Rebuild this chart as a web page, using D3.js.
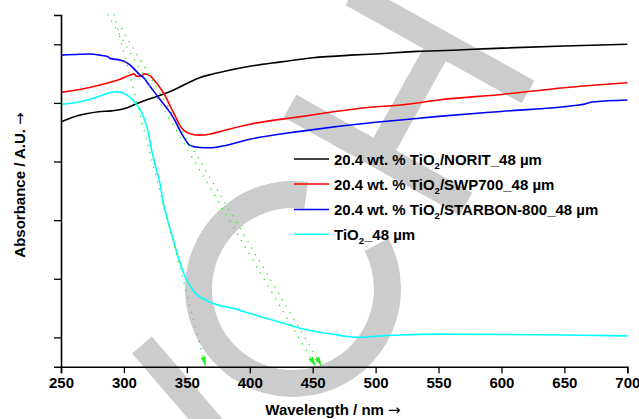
<!DOCTYPE html>
<html>
<head>
<meta charset="utf-8">
<script src="https://cdn.jsdelivr.net/npm/d3@7"></script>
<style>
  body { margin: 0; background: #fff; }
  svg { display: block; }
  text { font-family: "Liberation Sans", Arial, sans-serif; font-weight: bold; fill: #000; }
  .arrow { font-family: "DejaVu Sans", sans-serif; font-weight: normal; }
</style>
</head>
<body>
<svg id="chart" width="639" height="419"></svg>
<script>
// Diffuse reflectance UV-Vis spectra (absorbance, arbitrary units)
const seriesNames = [
  "20.4 wt. % TiO2/NORIT_48 µm",
  "20.4 wt. % TiO2/SWP700_48 µm",
  "20.4 wt. % TiO2/STARBON-800_48 µm",
  "TiO2_48 µm"
];
const seriesColors = ["#000000", "#ff0000", "#0000ff", "#00ffff"];

const noritNm  = [250, 260, 270, 280, 290, 300, 310, 320, 330, 340, 350, 360, 370, 380, 400, 425, 450, 480, 500, 533, 550, 600, 650, 700];
const noritAbs = [0.735, 0.752, 0.763, 0.770, 0.773, 0.780, 0.797, 0.813, 0.828, 0.845, 0.866, 0.886, 0.898, 0.908, 0.925, 0.940, 0.954, 0.963, 0.967, 0.976, 0.978, 0.987, 0.994, 1.000];

const swpNm  = [250, 265, 281, 297, 305, 308, 310, 314, 316, 318, 321, 325, 329, 333, 337, 341, 345, 349, 354, 360, 368, 376, 400, 440, 500, 520, 550, 600, 650, 700];
const swpAbs = [0.836, 0.846, 0.861, 0.881, 0.895, 0.899, 0.891, 0.891, 0.899, 0.898, 0.892, 0.872, 0.850, 0.822, 0.787, 0.753, 0.719, 0.702, 0.693, 0.690, 0.693, 0.702, 0.727, 0.753, 0.787, 0.793, 0.810, 0.829, 0.852, 0.869];

const starbonNm  = [250, 265, 273, 281, 287, 289, 297, 301, 305, 309, 313, 315, 321, 329, 337, 341, 345, 349, 352, 360, 368, 376, 400, 440, 500, 520, 550, 600, 650, 660, 665, 672, 700];
const starbonAbs = [0.963, 0.966, 0.967, 0.963, 0.958, 0.952, 0.946, 0.940, 0.929, 0.912, 0.895, 0.889, 0.855, 0.810, 0.765, 0.736, 0.702, 0.673, 0.656, 0.648, 0.647, 0.651, 0.676, 0.703, 0.734, 0.742, 0.754, 0.771, 0.787, 0.792, 0.795, 0.803, 0.810];

const tio2Nm  = [250, 260, 270, 280, 288, 293, 297, 301, 305, 309, 313, 316, 319, 322, 326, 329, 331, 334, 338, 342, 346, 350, 355, 360, 365, 371, 387, 400, 413, 427, 440, 453, 466, 478, 486, 500, 520, 550, 600, 650, 700];
const tio2Abs = [0.796, 0.800, 0.809, 0.822, 0.834, 0.838, 0.837, 0.830, 0.819, 0.800, 0.776, 0.748, 0.705, 0.640, 0.570, 0.518, 0.465, 0.412, 0.352, 0.290, 0.236, 0.195, 0.160, 0.139, 0.128, 0.116, 0.099, 0.082, 0.065, 0.048, 0.031, 0.019, 0.011, 0.003, 0.000, 0.004, 0.008, 0.011, 0.010, 0.008, 0.005];

// Band-edge extrapolation lines (start point, and wavelength where they meet the axis)
const edgeStartNm  = [292, 287, 298];
const edgeStartAbs = [1.103, 1.103, 1.055];
const edgeEndNm    = [365, 452.5, 457.5];

const xMajorTicks = [250, 300, 350, 400, 450, 500, 550, 600, 650, 700];
const xMinorTicks = [275, 325, 375, 425, 475, 525, 575, 625, 675];
const yMajorTicks = [0, 0.2, 0.4, 0.6, 0.8, 1.0];
const yMinorTicks = [0.1, 0.3, 0.5, 0.7, 0.9, 1.1];

const svg = d3.select("#chart");
const x = d3.scaleLinear().domain([250, 700]).range([61, 627.3]);
const y = d3.scaleLinear().domain([-0.1, 1.1]).range([366.7, 15]);

// Light grey letterforms behind the plot
const wm = svg.append("g").attr("fill", "#cccccc");
function band(x1, y1, x2, y2, w) {
  const dx = x2 - x1, dy = y2 - y1, L = Math.hypot(dx, dy);
  const nx = -dy / L * w / 2, ny = dx / L * w / 2;
  return `M${x1 + nx},${y1 + ny}L${x2 + nx},${y2 + ny}L${x2 - nx},${y2 - ny}L${x1 - nx},${y1 - ny}Z`;
}
wm.append("path").attr("d", band(352, -6, 528, 92, 26));
wm.append("path").attr("d", band(440, 45, 377, 158, 26));
wm.append("path").attr("d", band(290, 106, 466, 204, 26));
wm.append("path").attr("d", band(142, 345, 215, 430, 26));
wm.append("path")
  .attr("transform", "translate(293,289)")
  .attr("d", d3.arc().innerRadius(81).outerRadius(108)
    .startAngle(62 * Math.PI / 180).endAngle(368 * Math.PI / 180)());

// Spectra
const line = d3.line().curve(d3.curveMonotoneX).x(d => x(d[0])).y(d => y(d[1]));
const spectra = [
  d3.zip(noritNm, noritAbs),
  d3.zip(swpNm, swpAbs),
  d3.zip(starbonNm, starbonAbs),
  d3.zip(tio2Nm, tio2Abs)
];
svg.append("g").selectAll("path").data(spectra).join("path")
  .attr("d", line)
  .attr("fill", "none")
  .attr("stroke", (d, i) => seriesColors[i])
  .attr("stroke-width", 1.6)
  .attr("stroke-linejoin", "round");

// Dotted extrapolation lines with arrowheads
const edges = svg.append("g");
edgeStartNm.forEach((s, i) => {
  const x1 = x(s), y1 = y(edgeStartAbs[i]);
  const x2 = x(edgeEndNm[i]), y2 = y(-0.1);
  const L = Math.hypot(x2 - x1, y2 - y1), ux = (x2 - x1) / L, uy = (y2 - y1) / L;
  const hl = 10, hw = 2.6;
  edges.append("line")
    .attr("x1", x1).attr("y1", y1).attr("x2", x2 - ux * hl).attr("y2", y2 - uy * hl)
    .attr("stroke", "#22ee22").attr("stroke-width", 1.3).attr("stroke-dasharray", "1.3 6.2");
  const bx = x2 - ux * hl, by = y2 - uy * hl;
  edges.append("path")
    .attr("d", `M${x2},${y2}L${bx - uy * hw},${by + ux * hw}L${bx + uy * hw},${by - ux * hw}Z`)
    .attr("fill", "#22ee22");
});

// Axes
const axX = svg.append("g").attr("transform", `translate(0,${y(-0.1)})`);
axX.call(d3.axisBottom(x).tickValues(xMinorTicks).tickSize(4).tickFormat(""));
axX.call(d3.axisBottom(x).tickValues(xMajorTicks).tickSize(6.5).tickFormat(d3.format("d")));
axX.selectAll("text").attr("font-size", 15).attr("y", 11).attr("dy", "0.71em");
const axY = svg.append("g").attr("transform", `translate(${x(250)},0)`);
axY.call(d3.axisLeft(y).tickValues(yMinorTicks).tickSize(3.5).tickFormat(""));
axY.call(d3.axisLeft(y).tickValues(yMajorTicks).tickSize(7).tickFormat(""));
svg.selectAll(".domain").attr("stroke-width", 1.6).attr("stroke", "#000");
svg.selectAll(".tick line").attr("stroke-width", 1.3).attr("stroke", "#000");
svg.selectAll(".tick text").attr("font-family", "'Liberation Sans', Arial, sans-serif").attr("font-weight", "bold");

// Axis titles
const xt = svg.append("text").attr("x", 333).attr("y", 415).attr("text-anchor", "middle")
  .attr("font-size", 15);
xt.append("tspan").text("Wavelength / nm ");
xt.append("tspan").attr("class", "arrow").text("\u2192");
const yt = svg.append("text").attr("transform", "translate(25,185) rotate(-90)").attr("text-anchor", "middle")
  .attr("font-size", 15);
yt.append("tspan").text("Absorbance / A.U. ");
yt.append("tspan").attr("class", "arrow").text("\u2192");

// Legend
const legendY = [159, 184, 209.5, 234.3];
const lg = svg.append("g");
seriesNames.forEach((name, i) => {
  lg.append("line").attr("x1", 294).attr("x2", 329).attr("y1", legendY[i]).attr("y2", legendY[i])
    .attr("stroke", seriesColors[i]).attr("stroke-width", 1.6);
  const parts = name.split("TiO2");
  const t = lg.append("text").attr("x", 334).attr("y", legendY[i] + 5.5).attr("font-size", 15);
  t.append("tspan").text(parts[0] + "TiO");
  t.append("tspan").attr("font-size", 9.5).attr("dy", 4).text("2");
  t.append("tspan").attr("dy", -4).text(parts[1]);
});
</script>
</body>
</html>
